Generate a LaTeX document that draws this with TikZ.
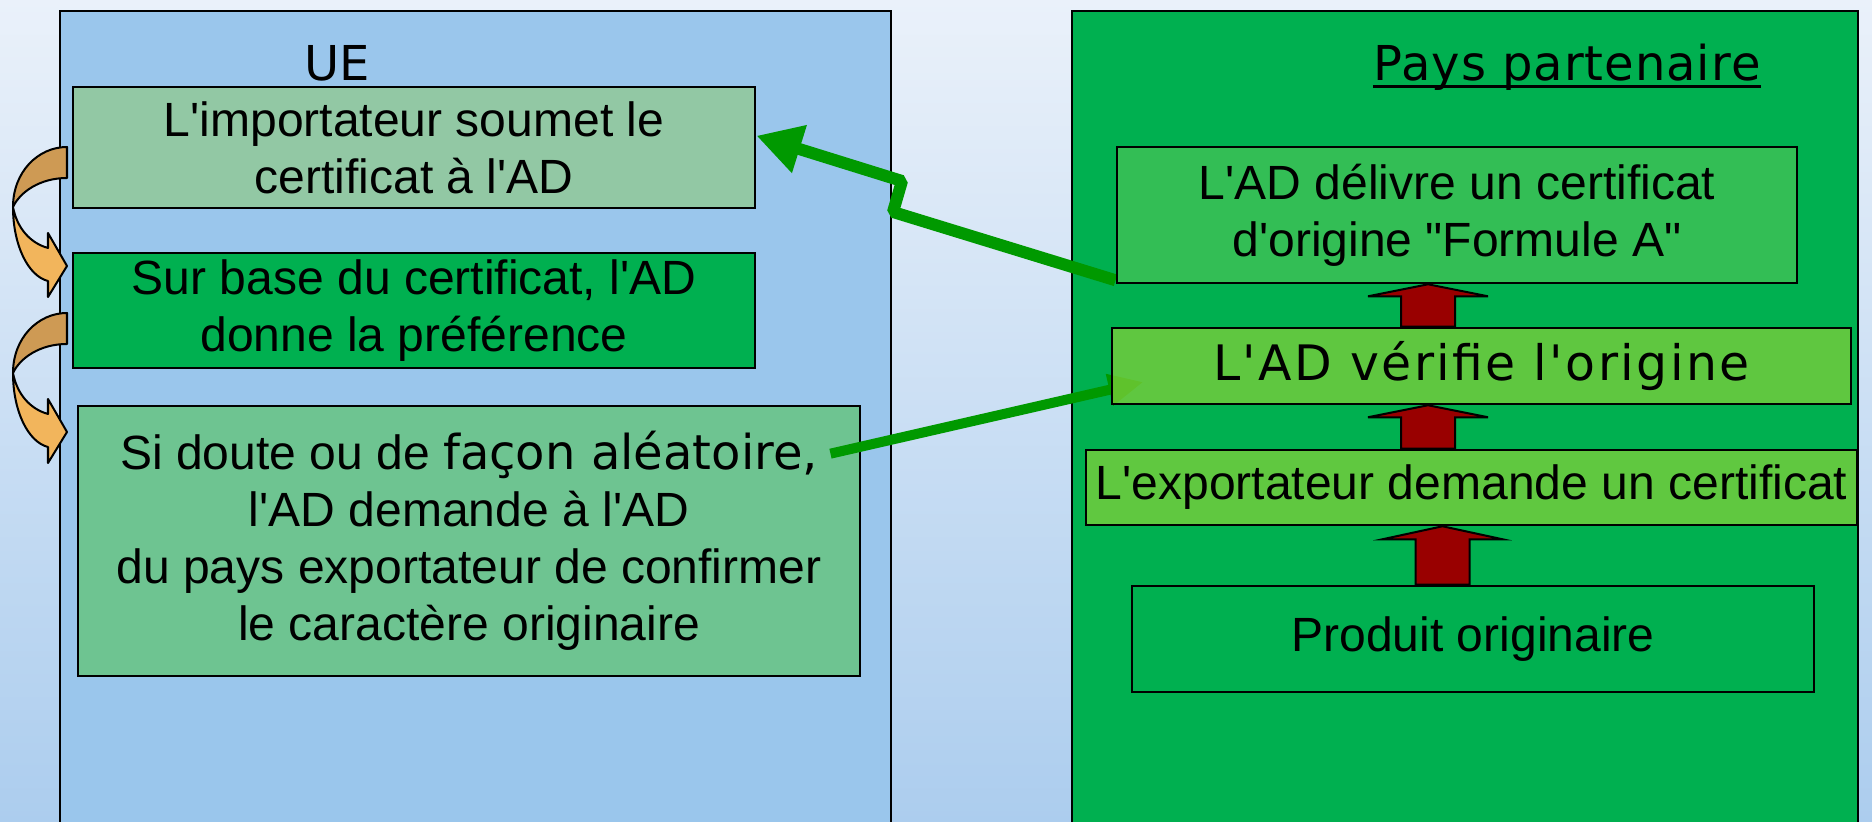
\documentclass[tikz,border=0pt]{standalone}
\usepackage{fontspec}
\setmainfont[Ligatures=TeXOff]{Liberation Sans}
\newfontfamily\verd[Ligatures=TeXOff]{DejaVu Sans}
\newfontfamily\verdwide[Ligatures=TeXOff,LetterSpace=5]{DejaVu Sans}
\newfontfamily\verdsemi[Ligatures=TeXOff,LetterSpace=2]{DejaVu Sans}
\usetikzlibrary{arrows.meta,calc}
\pgfdeclarelayer{back}
\pgfdeclarelayer{mid}
\pgfsetlayers{back,mid,main}
\definecolor{bgtop}{RGB}{234,241,250}
\definecolor{bgbot}{RGB}{172,205,238}
\definecolor{ueblue}{RGB}{154,198,236}
\definecolor{ppgreen}{RGB}{0,176,80}
\definecolor{greygreen}{RGB}{146,200,164}
\definecolor{seagreen}{RGB}{110,196,145}
\definecolor{midgreen}{RGB}{69,195,87}
\definecolor{limet}{RGB}{128,208,59}
\definecolor{lime}{RGB}{96,200,64}
\definecolor{arrowgreen}{RGB}{0,153,0}
\definecolor{darkred}{RGB}{153,0,0}
\definecolor{orangeback}{RGB}{206,154,84}
\definecolor{orangefront}{RGB}{242,181,92}
\newcommand\boxfont{\fontsize{13.66pt}{16.22pt}\selectfont}
\begin{document}
\begin{tikzpicture}[x=0.01cm,y=-0.01cm,
  box/.style={draw=black, line width=0.025cm, inner sep=0pt, align=center, font=\boxfont},
  panelline/.style={draw=black, line width=0.02cm},
  redblock/.style={fill=darkred, draw=black, line width=0.02cm, line join=miter},
  orangeline/.style={draw=black, line width=0.02cm, line join=round},
  greenarrow/.style={draw=arrowgreen, line join=bevel}
]
\useasboundingbox (0,0) rectangle (1872,822);
\begin{pgfonlayer}{back}
\shade[top color=bgtop,bottom color=bgbot] (0,0) rectangle (1872,822);
\fill[ueblue] (60,11) rectangle (891,830);
\draw[panelline] (60,830) -- (60,11) -- (891,11) -- (891,830);
\fill[ppgreen] (1072,11) rectangle (1858,830);
\draw[panelline] (1072,830) -- (1072,11) -- (1858,11) -- (1858,830);
\node[box, fill=greygreen, minimum width=6.82cm, minimum height=1.21cm] (b1) at (414,147.5) {L'importateur soumet le\\certificat à l'AD};
\node[box, fill=ppgreen, minimum width=6.82cm, minimum height=1.15cm] (b2) at (414,310.5) {Sur base du certificat, l'AD\\donne la préférence};
\node[box, fill=seagreen, minimum width=7.82cm, minimum height=2.70cm] (b3) at (469,541) {Si doute ou de {\verd façon aléatoire,}\\l'AD demande à l'AD\\du pays exportateur de confirmer\\le caractère originaire};
\end{pgfonlayer}

\node[box, fill=midgreen, fill opacity=0.75, text opacity=1, minimum width=6.80cm, minimum height=1.36cm] (b4) at (1457,215) {L'AD délivre un certificat\\d'origine "Formule A"};
\node[box, fill=limet, fill opacity=0.75, text opacity=1, font=\verdwide\fontsize{13.9pt}{17pt}\selectfont, minimum width=7.39cm, minimum height=0.76cm] (b5) at (1481.5,366) {L'AD vérifie l'origine};
\node[box, fill=lime, minimum width=7.71cm, minimum height=0.75cm] (b6) at (1471.5,487.5) {L'exportateur demande un certificat};
\node[box, fill=ppgreen, minimum width=6.82cm, minimum height=1.06cm] (b7) at (1473,639) {Produit originaire};

\coordinate (ca) at (1428,0);
\coordinate (cc) at (1442.5,0);
\draw[redblock] (ca |- b4.south) -- ++(60,12) -- ++(-33,0) -- ($(ca |- b5.north)+(27,0)$) -- ++(-54,0) -- ($(ca |- b4.south)+(-27,12)$) -- ++(-33,0) -- cycle;
\draw[redblock] (ca |- b5.south) -- ++(60,12) -- ++(-33,0) -- ($(ca |- b6.north)+(27,0)$) -- ++(-54,0) -- ($(ca |- b5.south)+(-27,12)$) -- ++(-33,0) -- cycle;
\draw[redblock] (cc |- b6.south) -- ++(60,13) -- ++(-33,0) -- ($(cc |- b7.north)+(27,0)$) -- ++(-54,0) -- ($(cc |- b6.south)+(-27,13)$) -- ++(-33,0) -- cycle;

\node[font=\verd\fontsize{13.66pt}{16pt}\selectfont, anchor=base, inner sep=0pt] (ue) at (337,81) {UE};
\node[font=\verdsemi\fontsize{13.66pt}{16pt}\selectfont, anchor=base, inner sep=0pt] (pp) at (1567,81) {Pays partenaire};
\draw[line width=0.03cm] ($(pp.base west)+(0,6)$) -- ($(pp.base east)+(0,6)$);

\begin{pgfonlayer}{mid}
\foreach \dy in {0,166} {
  \begin{scope}[shift={(0,\dy)}]
    \filldraw[orangeline, fill=orangeback] (67,147) .. controls (38,147) and (13,172) .. (13,207) .. controls (20,192) and (40,178) .. (67,178) -- cycle;
    \filldraw[orangeline, fill=orangefront] (13,207) .. controls (13,245) and (28,276) .. (48,281) -- (48,297) -- (67,266) -- (48,233) -- (48,248) .. controls (30,243) and (17,228) .. (13,207) -- cycle;
  \end{scope}
}
\coordinate (z1) at (893,212);
\coordinate (z2) at (902,181);
\draw[greenarrow, line width=0.12cm, -{Triangle[length=0.45cm,width=0.47cm]}] ($(b4.south west)+(0,-4)$) -- (z1) -- (z2) -- ($(b1.north east)+(0,50)$);
\draw[greenarrow, line width=0.10cm, -{Triangle[length=0.35cm,width=0.30cm]}] ($(b3.north east)+(-31,49)$) -- ($(b5.west)+(33,16)$);
\end{pgfonlayer}
\end{tikzpicture}
\end{document}
